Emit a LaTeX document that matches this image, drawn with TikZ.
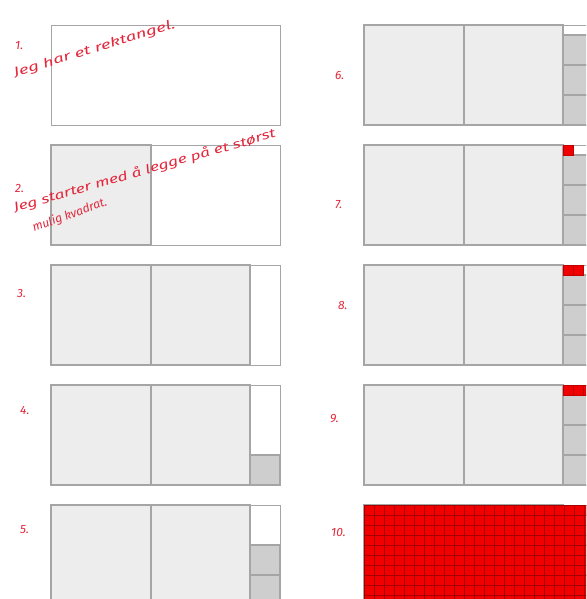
\documentclass[tikz,border=0pt]{standalone}
\usepackage{fontspec}
\setmainfont{Fira Sans}
\definecolor{edge}{RGB}{165,165,165}
\definecolor{biggrey}{RGB}{237,237,237}
\definecolor{smallgrey}{RGB}{206,206,206}
\definecolor{redfill}{RGB}{240,0,0}
\definecolor{reddark}{RGB}{165,0,0}
\definecolor{ink}{RGB}{228,40,60}
\tikzset{
  frame/.style={draw=edge, line width=1.4, fill=white},
  bigsq/.style={draw=edge, line width=1.4, fill=biggrey},
  smallsq/.style={draw=edge, line width=1.4, fill=smallgrey},
  redsq/.style={draw=reddark!60!redfill, line width=0.5, fill=redfill},
  hand/.style={text=ink, font=\itshape\fontsize{12.5}{15}\selectfont, inner sep=0pt},
  handsm/.style={text=ink, font=\itshape\fontsize{12}{14}\selectfont, inner sep=0pt},
  num/.style={text=ink, font=\itshape\fontsize{12}{14}\selectfont, inner sep=0pt},
}
\newcommand{\mypanel}[4]{% name, x, y, step
\begin{scope}[shift={(#2,#3)}]
  \node[frame, minimum width=229, minimum height=100, anchor=north west, inner sep=0pt] (#1) at (0,0) {};
  \ifnum#4>1 \path[bigsq] (0,0) rectangle (100,100); \fi
  \ifnum#4>2 \path[bigsq] (100,0) rectangle (199,100); \fi
  \ifnum#4>3 \path[smallsq] (199,70) rectangle (229,100); \fi
  \ifnum#4>4 \path[smallsq] (199,40) rectangle (229,70); \fi
  \ifnum#4>5 \path[smallsq] (199,10) rectangle (229,40); \fi
  \ifnum#4>6 \path[redsq] (199,0) rectangle (209,10); \fi
  \ifnum#4>7 \path[redsq] (209,0) rectangle (219,10); \fi
  \ifnum#4>8 \path[redsq] (219,0) rectangle (229,10); \fi
  \ifnum#4>9
    \path[fill=redfill] (0,0) rectangle (230,100);
    \foreach \i in {0,10,...,230} \draw[reddark, line width=0.6] (\i,0) -- (\i,100);
    \foreach \j in {0,10,...,100} \draw[reddark, line width=0.6] (0,\j) -- (230,\j);
  \fi
\end{scope}}
\begin{document}
\begin{tikzpicture}[x=1pt,y=-1pt]
\useasboundingbox (0,0) rectangle (586,599);
\fill[white] (0,0) rectangle (586,599);
\begin{scope}
\clip (0,0) rectangle (586,599);
\mypanel{p1}{51}{25}{1}
\mypanel{p2}{51}{145}{2}
\mypanel{p3}{51}{265}{3}
\mypanel{p4}{51}{385}{4}
\mypanel{p5}{51}{505}{5}
\mypanel{p6}{364}{25}{6}
\mypanel{p7}{364}{145}{7}
\mypanel{p8}{364}{265}{8}
\mypanel{p9}{364}{385}{9}
\mypanel{p10}{364}{505}{10}
\end{scope}
% labels
\node[num, anchor=base west] (l1) at (15,50) {1.};
\node[hand, anchor=base west, rotate=17] (t1) at (15,77) {\scalebox{1.48}[1]{Jeg har et rektangel.}};
\node[num, anchor=base west] (l2) at (15,192) {2.};
\node[hand, anchor=base west, rotate=16] (t2) at (15,212) {\scalebox{1.38}[1]{Jeg starter med å legge på et størst}};
\node[handsm, anchor=base west, rotate=20] (t2b) at (34,232) {mulig kvadrat.};
\node[num, anchor=base west] (l3) at (17,297) {3.};
\node[num, anchor=base west] (l4) at (20,414) {4.};
\node[num, anchor=base west] (l5) at (20,533) {5.};
\node[num, anchor=base west] (l6) at (335,80) {6.};
\node[num, anchor=base west] (l7) at (335,208) {7.};
\node[num, anchor=base west] (l8) at (338,309) {8.};
\node[num, anchor=base west] (l9) at (330,422) {9.};
\node[num, anchor=base west] (l10) at (331,536) {10.};
\end{tikzpicture}
\end{document}
